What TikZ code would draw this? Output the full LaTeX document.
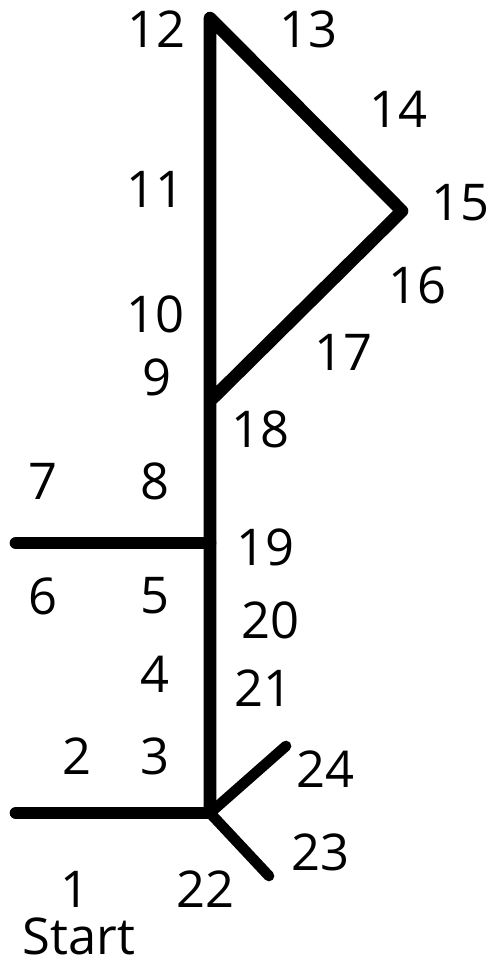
\documentclass[tikz,border=0pt]{standalone}
\usepackage{fontspec}
\setmainfont{Open Sans}
\usetikzlibrary{calc}

\tikzset{
  trail/.style={
    line width=9.5pt,
    line cap=round,
    line join=round,
  },
  spur/.style={
    line width=8pt,
    line cap=round,
  },
  num/.style={
    font=\fontsize{38}{40}\selectfont,
    inner sep=0pt,
    anchor=center,
  },
}

\begin{document}
\begin{tikzpicture}[x=0.75pt, y=-0.75pt]

\useasboundingbox (0,0) rectangle (489,969);

% === Course points ===
\coordinate (top)      at (210,18);
\coordinate (tip)      at (402,211);
\coordinate (meet)     at (211,400);
\coordinate (tee)      at (210,543);
\coordinate (teeend)   at (16,543);
\coordinate (junction) at (210,813);
\coordinate (startend) at (16,813);
\coordinate (upspur)   at (286,746);
\coordinate (downspur) at (269,876);

% === Lines ===
\draw[trail] (junction) -- (top) -- (tip) -- (meet);
\draw[trail] (tee) -- (teeend);
\draw[trail] (junction) -- (startend);
\draw[spur] (junction) -- (upspur);
\draw[spur] (junction) -- (downspur);

% === Labels ===
\node[num] (n1)  at (75,889)  {1};
\node[num] (n2)  at (77,756)  {2};
\node[num] (n3)  at (155,756) {3};
\node[num] (n4)  at (155,674) {4};
\node[num] (n5)  at (155,596) {5};
\node[num] (n6)  at (43,596)  {6};
\node[num] (n7)  at (43,481)  {7};
\node[num] (n8)  at (155,481) {8};
\node[num] (n9)  at (157,377) {9};
\node[num] (n10) at (155,314) {10};
\node[num] (n11) at (155,189) {11};
\node[num] (n12) at (156,29)  {12};
\node[num] (n13) at (308,29)  {13};
\node[num] (n14) at (398,109) {14};
\node[num] (n15) at (460,203) {15};
\node[num] (n16) at (417,285) {16};
\node[num] (n17) at (343,352) {17};
\node[num] (n18) at (260,429) {18};
\node[num] (n19) at (265,547) {19};
\node[num] (n20) at (270,620) {20};
\node[num] (n21) at (263,688) {21};
\node[num] (n22) at (205,889) {22};
\node[num] (n23) at (320,852) {23};
\node[num] (n24) at (325,769) {24};
\node[num] (start) at (79,936) {Start};

\end{tikzpicture}
\end{document}
